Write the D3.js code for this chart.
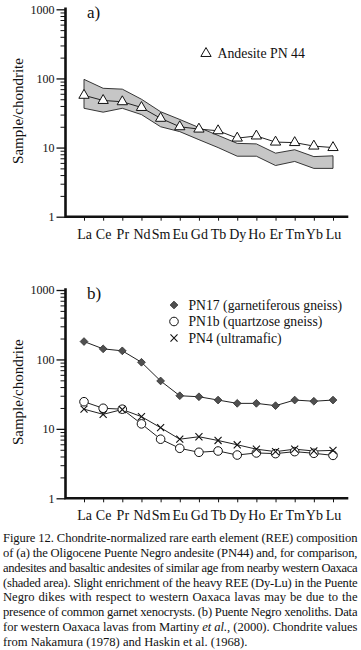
<!DOCTYPE html>
<html>
<head>
<meta charset="utf-8">
<script src="https://cdn.jsdelivr.net/npm/d3@7"></script>
<style>
  body { margin: 0; background: #fff; }
  svg { display: block; }
  svg text { font-family: "Liberation Serif", "Tinos", "DejaVu Serif", serif !important; fill: #111; }
</style>
</head>
<body>
<svg id="fig"></svg>
<script>
var elements = ["La","Ce","Pr","Nd","Sm","Eu","Gd","Tb","Dy","Ho","Er","Tm","Yb","Lu"]

// panel a
var pn44 = [57, 48, 46, 38, 26.5, 20, 18.5, 17.5, 13.7, 14.7, 12, 11.8, 10.5, 10]
var oaxacaHigh = [97, 72, 70, 50, 33, 25.5, 19.5, 15, 11.5, 11.3, 8.3, 9.3, 7.4, 7.6]
var oaxacaLow = [37, 32.5, 37, 30, 20, 17, 13, 10, 7.5, 7.5, 5.5, 6.3, 5.0, 5.0]

// panel b
var pn17 = [181, 142, 133, 91, 49, 30, 29, 26, 23.3, 23.3, 21.6, 26, 25, 26]
var pn1b = [24.6, 19.8, 19.2, 11.8, 7.1, 5.25, 4.6, 4.8, 4.2, 4.5, 4.4, 4.7, 4.45, 4.15]
var pn4 = [19.2, 16.2, 19, 15, 10.4, 7.1, 7.7, 6.8, 5.9, 5.1, 4.7, 5.1, 4.8, 4.9]

var majorTicks = [1, 10, 100, 1000]
var yTitle = "Sample/chondrite"

var caption = [
  [{t: "Figure 12. Chondrite-normalized rare earth element (REE) composition"}],
  [{t: "of (a) the Oligocene Puente Negro andesite (PN44) and, for comparison,"}],
  [{t: "andesites and basaltic andesites of similar age from nearby western Oaxaca"}],
  [{t: "(shaded area). Slight enrichment of the heavy REE (Dy-Lu) in the Puente"}],
  [{t: "Negro dikes with respect to western Oaxaca lavas may be due to the"}],
  [{t: "presence of common garnet xenocrysts. (b) Puente Negro xenoliths. Data"}],
  [{t: "for western Oaxaca lavas from Martiny "}, {t: "et al.", i: true}, {t: ", (2000). Chondrite values"}],
  [{t: "from Nakamura (1978) and Haskin et al. (1968)."}]
]

var W = 361, H = 650
var axisX = 65.5, axisRight = 347

var svg = d3.select('svg#fig')
    .attr('width', W)
    .attr('height', H)

var xScale = d3.scalePoint()
    .domain(elements)
    .range([84, 333])

// minor ticks 2..9 in every decade
var minorTicks = []
;[1, 10, 100].forEach(function(d) {
  for (var k = 2; k <= 9; k++) minorTicks.push(d * k)
})

function drawFrame(g, yScale, label) {
  var y0 = yScale(1), y1 = yScale(1000)

  g.append('g')
    .attr('transform', 'translate(' + axisX + ',0)')
    .call(d3.axisLeft(yScale).tickValues(minorTicks).tickSize(5).tickFormat(''))
    .call(function(a) { a.select('.domain').remove() })
    .selectAll('line').attr('stroke', '#111').attr('stroke-width', 1)

  var yAx = g.append('g')
    .attr('transform', 'translate(' + axisX + ',0)')
    .call(d3.axisLeft(yScale).tickValues(majorTicks).tickSize(9).tickPadding(2)
      .tickFormat(d3.format('d')))
  yAx.attr('font-family', null)
  yAx.select('.domain').remove()
  yAx.selectAll('line').attr('stroke', '#111').attr('stroke-width', 1.3)
  yAx.selectAll('text')
    .style('font-size', '12px')
    .attr('fill', '#222')

  var xAx = g.append('g')
    .attr('transform', 'translate(0,' + y0 + ')')
    .call(d3.axisBottom(xScale).tickSize(4).tickPadding(8))
  xAx.attr('font-family', null)
  xAx.select('.domain').remove()
  xAx.selectAll('line').attr('stroke', '#111').attr('stroke-width', 1)
  xAx.selectAll('text')
    .style('font-size', '14px')
    .attr('fill', '#111')

  g.append('path')
    .attr('d', 'M' + axisX + ',' + (y1 - 0.5) + 'V' + y0 + 'H' + axisRight)
    .attr('fill', 'none')
    .attr('stroke', '#111')
    .attr('stroke-width', 2.6)
    .attr('stroke-linejoin', 'miter')
    .attr('stroke-linecap', 'square')

  var cy = (y0 + y1) / 2 - 2
  g.append('text')
    .attr('transform', 'translate(23,' + cy + ') rotate(-90)')
    .attr('text-anchor', 'middle')
    .style('font-size', '15px')
    .text(yTitle)

  g.append('text')
    .attr('x', 87)
    .attr('y', y1 + 8.5)
    .style('font-size', '17px')
    .text(label)
}

function seriesPoints(values) {
  return values.map(function(v, i) { return {el: elements[i], v: v} })
}

var line = function(yScale) {
  return d3.line().x(function(d) { return xScale(d.el) }).y(function(d) { return yScale(d.v) })
}

// ---------- panel a ----------
var yA = d3.scaleLog().domain([1, 1000]).range([216.7, 9.3])
var gA = svg.append('g')

var band = seriesPoints(oaxacaHigh).map(function(d, i) {
  return {el: d.el, hi: d.v, lo: oaxacaLow[i]}
})
gA.append('path')
  .datum(band)
  .attr('d', d3.area()
    .x(function(d) { return xScale(d.el) })
    .y0(function(d) { return yA(d.lo) })
    .y1(function(d) { return yA(d.hi) }))
  .attr('fill', '#c6c6c6')
  .attr('stroke', '#222')
  .attr('stroke-width', 0.9)

gA.append('path')
  .datum(seriesPoints(pn44))
  .attr('d', line(yA))
  .attr('fill', 'none')
  .attr('stroke', '#222')
  .attr('stroke-width', 1)

var tri = d3.symbol(d3.symbolTriangle, 46)
gA.selectAll('.tri')
  .data(seriesPoints(pn44))
  .join('path')
  .attr('class', 'tri')
  .attr('d', tri)
  .attr('transform', function(d) { return 'translate(' + xScale(d.el) + ',' + yA(d.v) + ')' })
  .attr('fill', '#fff')
  .attr('stroke', '#111')
  .attr('stroke-width', 1)

drawFrame(gA, yA, 'a)')

gA.append('path')
  .attr('d', tri)
  .attr('transform', 'translate(206,53.5)')
  .attr('fill', '#fff')
  .attr('stroke', '#111')
  .attr('stroke-width', 1)
gA.append('text')
  .attr('x', 217.5)
  .attr('y', 57.5)
  .style('font-size', '13.8px')
  .text('Andesite PN 44')

// ---------- panel b ----------
var yB = d3.scaleLog().domain([1, 1000]).range([498.3, 290])
var gB = svg.append('g')

var seriesB = [
  {name: 'PN17 (garnetiferous gneiss)', values: pn17, kind: 'diamond'},
  {name: 'PN1b (quartzose gneiss)', values: pn1b, kind: 'circle'},
  {name: 'PN4 (ultramafic)', values: pn4, kind: 'cross'}
]

function marker(sel, kind) {
  if (kind === 'diamond') {
    sel.attr('d', d3.symbol(d3.symbolSquare, 30))
      .attr('fill', '#505050').attr('stroke', '#333').attr('stroke-width', 0.8)
  } else if (kind === 'circle') {
    sel.attr('d', d3.symbol(d3.symbolCircle, 58))
      .attr('fill', '#fff').attr('stroke', '#111').attr('stroke-width', 1)
  } else {
    sel.attr('d', d3.symbol(d3.symbolX, 34))
      .attr('fill', 'none').attr('stroke', '#111').attr('stroke-width', 1.1)
  }
}

seriesB.forEach(function(s) {
  gB.append('path')
    .datum(seriesPoints(s.values))
    .attr('d', line(yB))
    .attr('fill', 'none')
    .attr('stroke', '#222')
    .attr('stroke-width', 1)
})

seriesB.forEach(function(s) {
  gB.selectAll('.m-' + s.kind)
    .data(seriesPoints(s.values))
    .join('path')
    .attr('class', 'm-' + s.kind)
    .attr('transform', function(d) {
      return 'translate(' + xScale(d.el) + ',' + yB(d.v) + ')' + (s.kind === 'diamond' ? ' rotate(45)' : '')
    })
    .call(marker, s.kind)
})

drawFrame(gB, yB, 'b)')

var legB = gB.selectAll('.leg')
  .data(seriesB)
  .join('g')
  .attr('class', 'leg')
  .attr('transform', function(d, i) { return 'translate(174,' + (305 + i * 16.5) + ')' })
legB.append('path')
  .attr('transform', function(d) { return d.kind === 'diamond' ? 'rotate(45)' : null })
  .each(function(d) { d3.select(this).call(marker, d.kind) })
legB.append('text')
  .attr('x', 14.5)
  .attr('y', 4.8)
  .style('font-size', '13.7px')
  .text(function(d) { return d.name })

// ---------- caption ----------
var capLeft = 3, capRight = 357.5, capTop = 542.3, capStep = 14.77
var capText = svg.append('g').selectAll('text')
  .data(caption)
  .join('text')
  .attr('x', capLeft)
  .attr('y', function(d, i) { return capTop + i * capStep })
  .style('font-size', '12.6px')

capText.selectAll('tspan')
  .data(function(d) { return d })
  .join('tspan')
  .style('font-style', function(d) { return d.i ? 'italic' : null })
  .text(function(d) { return d.t })

// justify every line but the last
capText.each(function(d, i) {
  if (i === caption.length - 1) return
  var txt = d3.select(this)
  var w = this.getComputedTextLength()
  var target = capRight - capLeft
  var spaces = d.map(function(s) { return s.t }).join('').split(' ').length - 1
  if (w < target) {
    txt.style('word-spacing', ((target - w) / spaces) + 'px')
  } else {
    txt.attr('textLength', target).attr('lengthAdjust', 'spacing')
  }
})
</script>
</body>
</html>
